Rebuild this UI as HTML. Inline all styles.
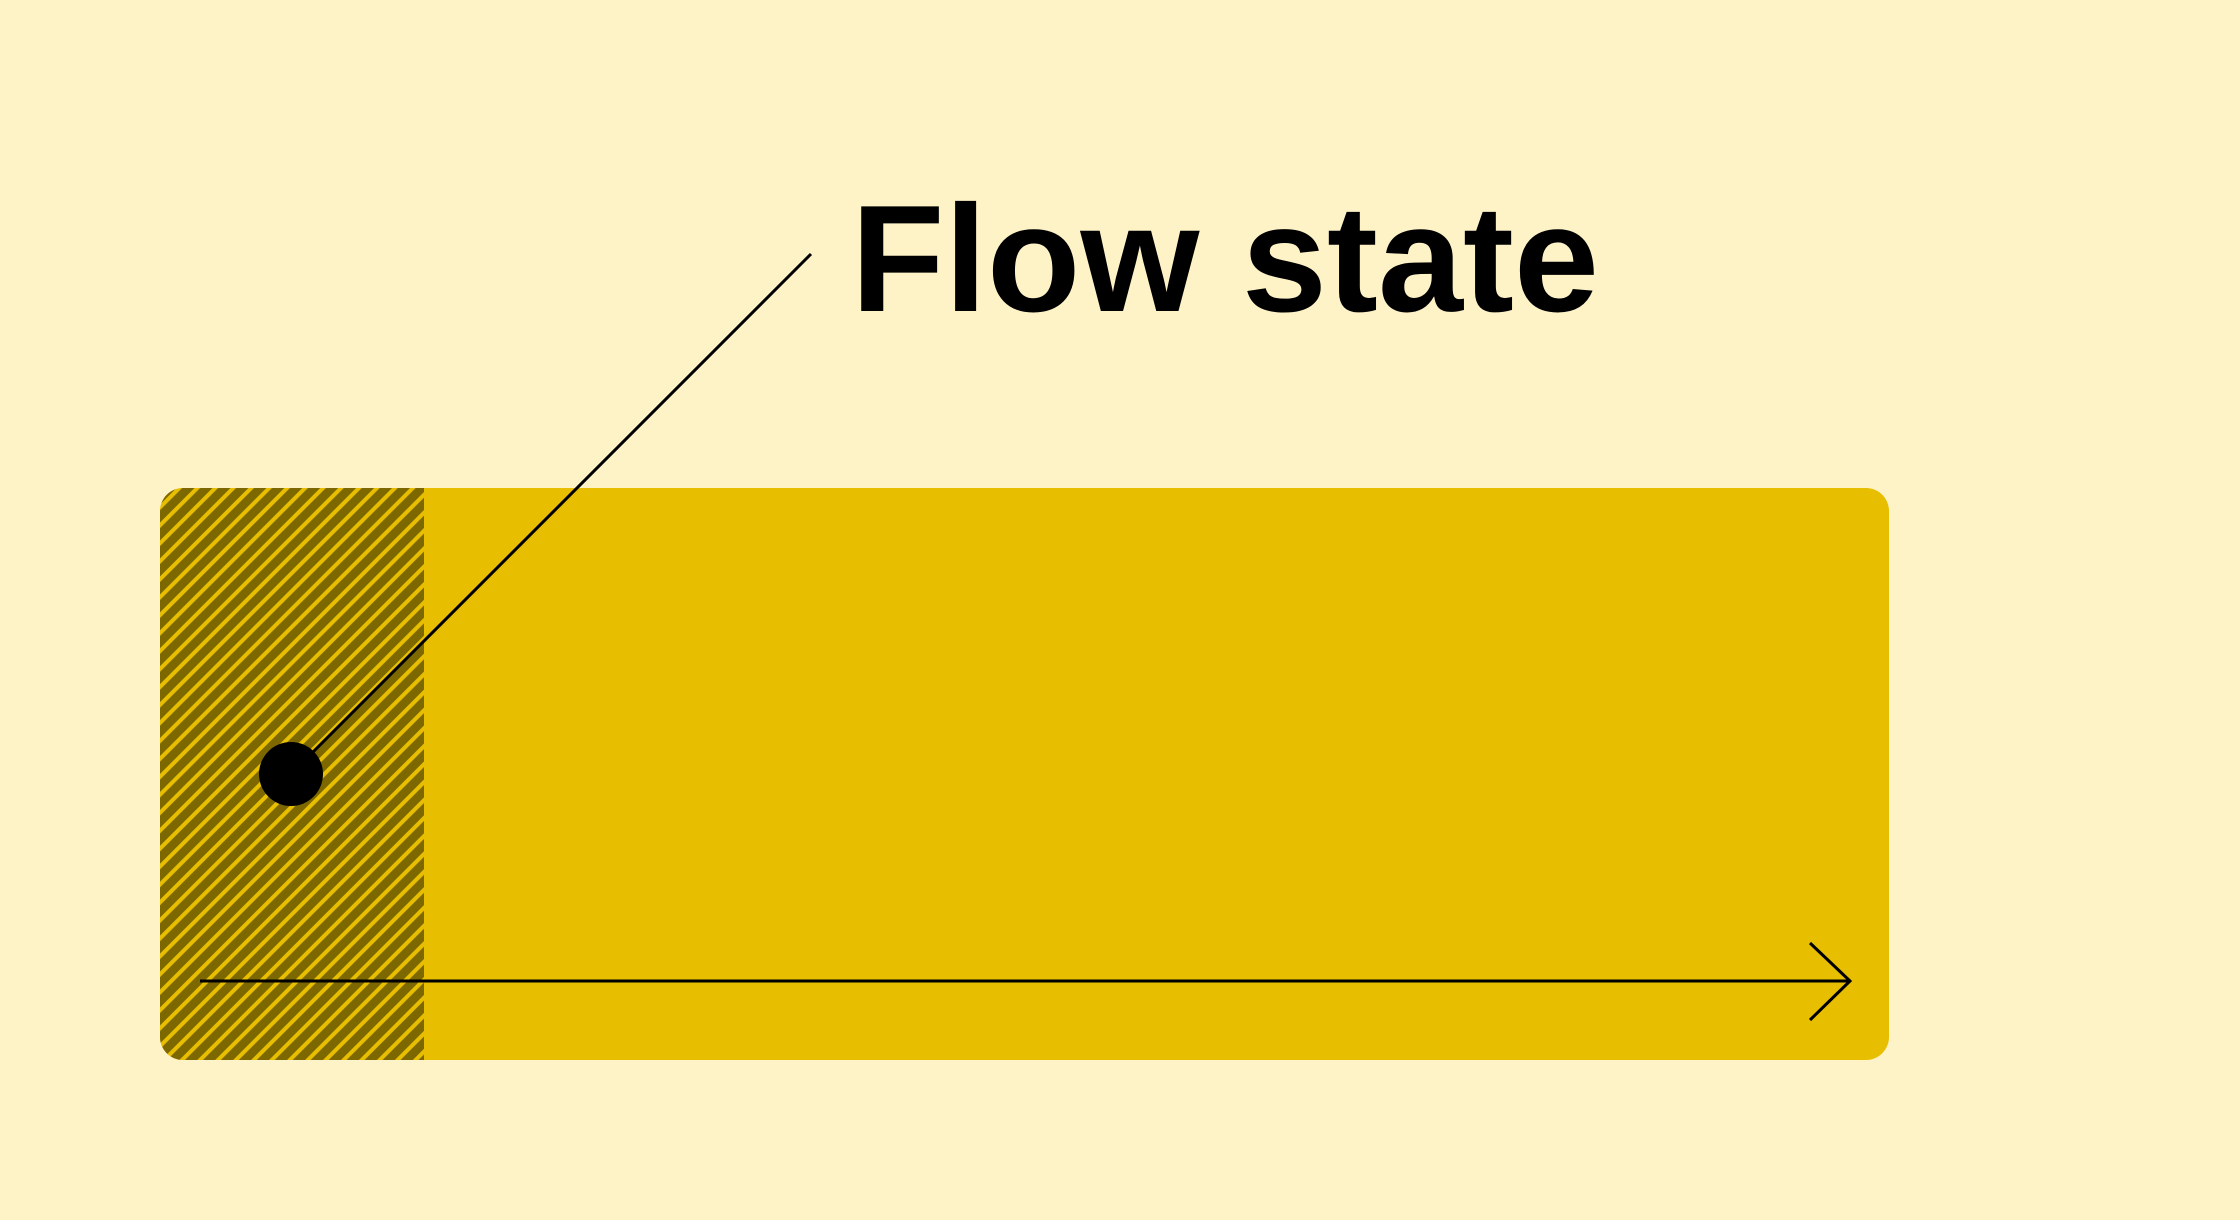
<!DOCTYPE html>
<html><head><style>
html,body{margin:0;padding:0;background:#fef3c7;}
body{width:2240px;height:1220px;position:relative;overflow:hidden;}
</style></head><body>
<svg width="2240" height="1220" style="position:absolute;left:0;top:0">
<defs>
<pattern id="h" patternUnits="userSpaceOnUse" width="12.7" height="12.7" patternTransform="rotate(45)">
<rect width="12.7" height="12.7" fill="#7d6800"/>
<rect width="4" height="12.7" fill="#e8be00"/>
</pattern>
<clipPath id="c"><rect x="160" y="488" width="1729" height="572" rx="23"/></clipPath>
</defs>
<rect x="160" y="488" width="1729" height="572" rx="23" fill="#e8be00"/>
<rect x="160" y="488" width="264" height="572" fill="url(#h)" clip-path="url(#c)"/>
<line x1="291" y1="774" x2="811" y2="254" stroke="#000" stroke-width="3"/>
<circle cx="291" cy="774" r="32" fill="#000"/>
<line x1="200" y1="981" x2="1850" y2="981" stroke="#000" stroke-width="3"/>
<polyline points="1810,943 1850,981 1810,1020" fill="none" stroke="#000" stroke-width="3"/>
<text x="851" y="311" font-family="Liberation Sans, sans-serif" font-weight="bold" font-size="152" textLength="748" lengthAdjust="spacingAndGlyphs" fill="#000">Flow state</text>
</svg>
</body></html>
